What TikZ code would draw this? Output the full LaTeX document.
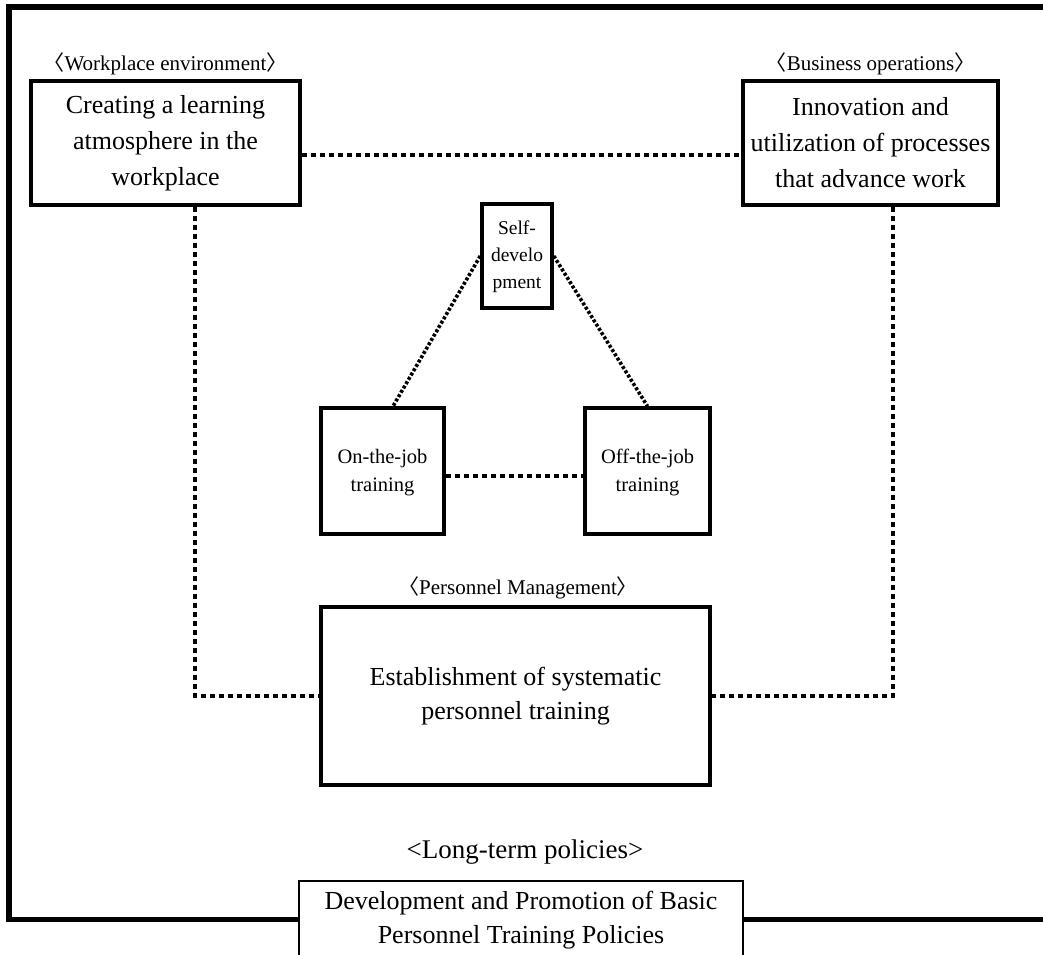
\documentclass[tikz,border=0pt]{standalone}
\usepackage{fontspec}
\setmainfont{Liberation Serif}
\newfontfamily\cjk{Noto Sans CJK SC}
\usetikzlibrary{calc}
\newcommand{\lbr}{{\cjk 〈}}
\newcommand{\rbr}{{\cjk 〉}}
\begin{document}
\begin{tikzpicture}[x=1pt,y=-1pt,
  box/.style={draw,line width=3.5pt,inner sep=0pt,align=center,fill=white},
  bigtext/.style={font=\fontsize{26}{36}\selectfont},
  midtext/.style={font=\fontsize{26}{34.5}\selectfont},
  smalltext/.style={font=\fontsize{20.5}{28}\selectfont},
  tinytext/.style={font=\fontsize{19.5}{27}\selectfont},
  tag/.style={inner sep=0pt,font=\fontsize{21}{24}\selectfont},
  dotline/.style={line width=3.2pt,dash pattern=on 5pt off 4pt},
  fineline/.style={line width=3.6pt,dash pattern=on 3pt off 2pt},
  frame/.style={line width=5.5pt,line join=miter}]
\useasboundingbox[fill=white] (0,0) rectangle (1043,954);

% outer frame
\draw[frame] (1043,7) -- (9,7) -- (9,919.5) -- (299,919.5);
\draw[frame] (743,919.5) -- (1043,919.5);

% main boxes
\node[box,bigtext,minimum width=269pt,minimum height=124pt] (wp) at (165.5,143)
  {Creating a learning\\atmosphere in the\\workplace};
\node[box,bigtext,minimum width=255pt,minimum height=124pt] (bo) at (870.5,143)
  {Innovation and\\utilization of processes\\that advance work};
\node[box,tinytext,minimum width=70pt,minimum height=104pt,text depth=2pt] (sd) at (517,256)
  {Self-\\develo\\pment};
\node[box,smalltext,minimum width=123pt,minimum height=126pt,text depth=2pt] (on) at (382.5,471)
  {On-the-job\\training};
\node[box,smalltext,minimum width=125pt,minimum height=126pt,text depth=2pt] (off) at (647.5,471)
  {Off-the-job\\training};
\node[box,midtext,minimum width=389pt,minimum height=178pt] (pm) at (515.5,696)
  {Establishment of systematic\\personnel training};

% tags above the boxes
\node[tag] (wpt) at (165.5,64) {\lbr Workplace environment\rbr};
\node[tag] (bot) at (870.5,64) {\lbr Business operations\rbr};
\node[tag] (pmt) at (518,588) {\lbr Personnel Management\rbr};
\node[inner sep=0pt,font=\fontsize{27}{30}\selectfont] (ltt) at (525,852) {<Long-term policies>};

% open box at the foot
\draw[line width=2.8pt] (299,960) -- (299,881) -- (743,881) -- (743,960);
\node[midtext,inner sep=0pt,align=center] (lt) at (521,920)
  {Development and Promotion of Basic\\Personnel Training Policies};

% connectors
\draw[dotline] ($(wp.east)+(0,12)$) -- ($(bo.west)+(0,12)$);
\draw[dotline] ($(wp.south)+(29.5,0)$) |- (pm.west);
\draw[dotline] ($(bo.south)+(22.5,0)$) |- (pm.east);
\draw[dotline] ($(on.east)+(0,5)$) -- ($(off.west)+(0,5)$);
\draw[fineline] (sd.west) -- ($(on.north)+(10.5,0)$);
\draw[fineline] (sd.east) -- (off.north);
\end{tikzpicture}
\end{document}
